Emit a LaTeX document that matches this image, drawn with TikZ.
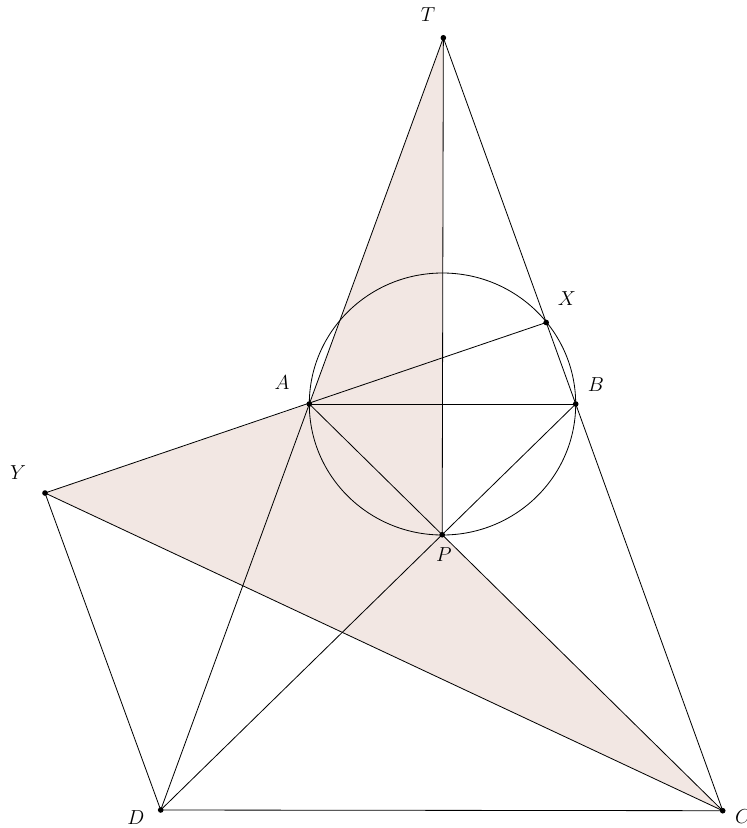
\documentclass[tikz,border=0pt]{standalone}
\usetikzlibrary{calc}

\definecolor{regionpink}{RGB}{242,231,227}

\tikzset{
    pt/.style={fill=black},
    lbl/.style={font=\fontsize{16}{18}\selectfont},
}

\begin{document}
\begin{tikzpicture}[x=0.03cm, y=-0.03cm, line width=0.7pt]
    \useasboundingbox (0,0) rectangle (747,828);

    \coordinate (A) at (309.3,404);
    \coordinate (B) at (575.7,404);
    \coordinate (C) at (722.7,810.7);
    \coordinate (D) at (160.7,810);
    \coordinate (O) at (442.5,404);
    \coordinate (P) at (intersection of A--C and B--D);
    \coordinate (T) at (intersection of A--D and B--C);
    \coordinate (X) at (546.2,322.5);
    \coordinate (Y) at (45,493);

    % shaded triangles TAP and AYC
    \fill[regionpink] (T) -- (A) -- (Y) -- (C) -- (P) -- cycle;

    \draw (O) ellipse [x radius=133.2, y radius=131];
    \draw (T) -- (D);
    \draw (T) -- (C);
    \draw (T) -- (P);
    \draw (A) -- (B);
    \draw (A) -- (C);
    \draw (B) -- (D);
    \draw (Y) -- (X);
    \draw (Y) -- (D);
    \draw (Y) -- (C);
    \draw (D) -- (C);

    \foreach \P in {A,B,C,D,P,T,X,Y}
        \fill[pt] (\P) circle (2.4pt);

    \node[lbl] (lT) at (428,15) {$T$};
    \node[lbl] (lX) at (567,299) {$X$};
    \node[lbl] (lA) at (282,383) {$A$};
    \node[lbl] (lB) at (596,385) {$B$};
    \node[lbl] (lP) at (444,555) {$P$};
    \node[lbl] (lY) at (18,473) {$Y$};
    \node[lbl] (lD) at (136,818) {$D$};
    \node[lbl] (lC) at (743,817) {$C$};
\end{tikzpicture}
\end{document}
